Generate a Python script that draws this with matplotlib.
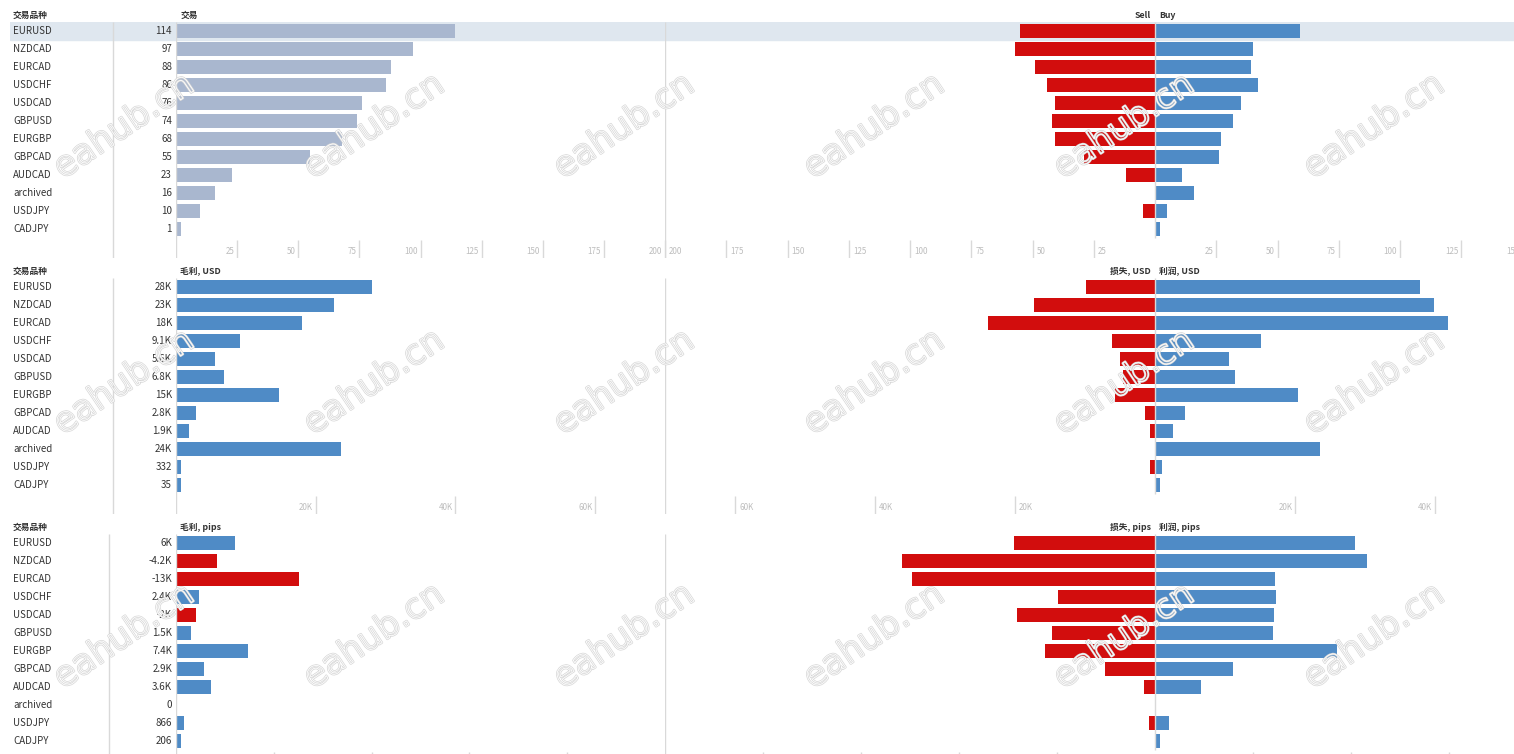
import numpy as np
import matplotlib.pyplot as plt
from matplotlib import patheffects as pe

plt.rcParams['font.family'] = ['Noto Sans CJK SC', 'DejaVu Sans']

# --- data ---
symbols = ['EURUSD', 'NZDCAD', 'EURCAD', 'USDCHF', 'USDCAD', 'GBPUSD',
           'EURGBP', 'GBPCAD', 'AUDCAD', 'archived', 'USDJPY', 'CADJPY']

trades = [114, 97, 88, 86, 76, 74, 68, 55, 23, 16, 10, 1]
sell_trades = [55, 57, 49, 44, 41, 42, 41, 29, 12, 0, 5, 0]
buy_trades = [59, 40, 39, 42, 35, 32, 27, 26, 11, 16, 5, 1]

gross_usd = [28000, 22600, 18000, 9100, 5600, 6800, 14700, 2800, 1900, 23600, 332, 35]
loss_usd = [9900, 17300, 23900, 6100, 5000, 4600, 5700, 1500, 600, 0, 700, 0]
profit_usd = [37900, 39900, 41900, 15200, 10600, 11400, 20400, 4300, 2500, 23600, 1032, 35]

gross_pips = [6000, -4200, -12600, 2400, -2000, 1500, 7400, 2900, 3600, 0, 866, 206]
loss_pips = [14400, 25800, 24800, 9900, 14100, 10500, 11200, 5100, 1100, 0, 600, 0]
profit_pips = [20400, 21600, 12200, 12300, 12100, 12000, 18600, 8000, 4700, 0, 1466, 206]

BLUE = '#4f8bc6'
RED = '#d20d0d'
GREY_BAR = '#a9b7cf'
LINE = '#d9d9d9'
TICK_TXT = '#bdbdbd'
TXT = '#333333'

sections = [
    dict(top=22, div=113, left=trades, neg=sell_trades, pos=buy_trades,
         lmax=200, rmax=200, lticks=list(range(25, 201, 25)),
         rticks=list(range(-200, 0, 25)) + list(range(25, 151, 25)),
         heads=('交易', 'Sell', 'Buy'), mono=GREY_BAR, highlight=True, labels=True),
    dict(top=278, div=113, left=gross_usd, neg=loss_usd, pos=profit_usd,
         lmax=70000, rmax=70000, lticks=[20000, 40000, 60000],
         rticks=[-60000, -40000, -20000, 20000, 40000],
         heads=('毛利, USD', '损失, USD', '利润, USD'), mono=None, highlight=False, labels=True),
    # bottom axis of the last block runs off the page, only tick stubs show
    dict(top=534, div=109, left=gross_pips, neg=loss_pips, pos=profit_pips,
         lmax=50000, rmax=50000, lticks=[10000, 20000, 30000, 40000],
         rticks=[-40000, -30000, -20000, -10000, 10000, 20000, 30000],
         heads=('毛利, pips', '损失, pips', '利润, pips'), mono=None, highlight=False, labels=False),
]

W, H = 1514, 754
fig = plt.figure(figsize=(W / 100, H / 100), dpi=100)

n = len(symbols)
rows = np.arange(n)
ROW_PX, TICK_PX = 18, 20
ybot = n - 0.5 + TICK_PX / ROW_PX
head_y = -0.5 - 7 / ROW_PX
tick_top = n - 0.5 + 2 / ROW_PX
tick_lab_y = n - 0.5 + 14 / ROW_PX
ZERO_L, SPLIT, ZERO_R = 176, 665, 1155


def px_axes(x0, y0, x1, y1, z=1):
    ax = fig.add_axes([x0 / W, 1 - y1 / H, (x1 - x0) / W, (y1 - y0) / H])
    ax.set_zorder(z)
    ax.patch.set_alpha(0)
    ax.axis('off')
    return ax


def fmt(v):
    if abs(v) >= 1000:
        return f'{v / 1000:.2g}K'
    return f'{v:g}'


def shown(vals, ax, min_px=5):
    # tableau keeps tiny bars a few pixels wide
    lo, hi = ax.get_xlim()
    m = min_px * (hi - lo) / (ax.get_position().width * W)
    v = np.abs(np.asarray(vals, float))
    return np.where(v > 0, np.maximum(v, m), 0)


def tick_marks(ax, ticks, labels=True):
    ax.vlines(ticks, tick_top, ybot, color=LINE, lw=1)
    if not labels:
        return
    for t in ticks:
        off, ha = ((-2, 'right') if t > 0 else (3, 'left'))
        ax.annotate(fmt(abs(t)), (t, tick_lab_y), xytext=(off, 0),
                    textcoords='offset points', ha=ha, va='center',
                    fontsize=5.8, color=TICK_TXT, annotation_clip=False)


for sec in sections:
    top = sec['top']
    bottom = top + n * ROW_PX + TICK_PX

    frame = px_axes(10, top, W, bottom, z=0)
    frame.set_xlim(10, W)
    frame.set_ylim(ybot, -0.5)
    if sec['highlight']:
        frame.axhspan(-0.5, 0.5, color='#dfe7ef', zorder=0)
    frame.vlines(sec['div'], -0.5, ybot, color=LINE, lw=1)
    frame.text(13, head_y, '交易品种', fontsize=6.3, fontweight='bold',
               color=TXT, va='center', ha='left')
    for i, (sym, v) in enumerate(zip(symbols, sec['left'])):
        frame.text(13, i, sym, fontsize=7, color=TXT, va='center', ha='left')
        frame.text(172, i, fmt(v), fontsize=7, color=TXT, va='center', ha='right')

    # left panel: single measure
    axL = px_axes(ZERO_L, top, SPLIT, bottom)
    axL.set_xlim(0, sec['lmax'])
    axL.set_ylim(ybot, -0.5)
    vals = np.asarray(sec['left'])
    if sec['mono']:
        cols = [sec['mono']] * n
    else:
        cols = [RED if v < 0 else BLUE for v in vals]
    axL.barh(rows, shown(vals, axL), height=0.78, color=cols, zorder=2)
    axL.vlines(0, -0.5, ybot, color=LINE, lw=1, zorder=3)
    tick_marks(axL, sec['lticks'], sec['labels'])
    axL.annotate(sec['heads'][0], (0, head_y), xytext=(3, 0), textcoords='offset points',
                 ha='left', va='center', fontsize=6.3, fontweight='bold', color=TXT,
                 annotation_clip=False)

    # right panel: diverging negatives / positives
    axR = px_axes(SPLIT, top, W, bottom)
    rmax = sec['rmax']
    axR.set_xlim(-rmax, rmax * (W - ZERO_R) / (ZERO_R - SPLIT))
    axR.set_ylim(ybot, -0.5)
    axR.barh(rows, -shown(sec['neg'], axR), height=0.78, color=RED, zorder=2)
    axR.barh(rows, shown(sec['pos'], axR), height=0.78, color=BLUE, zorder=2)
    axR.vlines(-rmax, -0.5, ybot, color=LINE, lw=1)
    axR.vlines(0, -0.5, n - 0.5, color=LINE, lw=1, zorder=3)
    tick_marks(axR, sec['rticks'], sec['labels'])
    axR.annotate(sec['heads'][1], (0, head_y), xytext=(-3, 0), textcoords='offset points',
                 ha='right', va='center', fontsize=6.3, fontweight='bold', color=TXT,
                 annotation_clip=False)
    axR.annotate(sec['heads'][2], (0, head_y), xytext=(3, 0), textcoords='offset points',
                 ha='left', va='center', fontsize=6.3, fontweight='bold', color=TXT,
                 annotation_clip=False)

# site watermark (hollow outlined text, fill stays transparent)
wm = px_axes(0, 0, W, H, z=10)
wm.set_xlim(0, W)
wm.set_ylim(H, 0)
stroke = [pe.Stroke(linewidth=1.6, foreground='#d6d6d6'),
          pe.Stroke(linewidth=0.6, foreground='white')]
for cy in [126, 382, 636]:
    for cx in [124, 374, 624, 874, 1124, 1374]:
        wm.text(cx, cy, 'eahub.cn', fontsize=25, family='DejaVu Sans', rotation=34,
                ha='center', va='center', color=(1, 1, 1, 0), path_effects=stroke)

fig.savefig('out.png', dpi=100, facecolor='white')
